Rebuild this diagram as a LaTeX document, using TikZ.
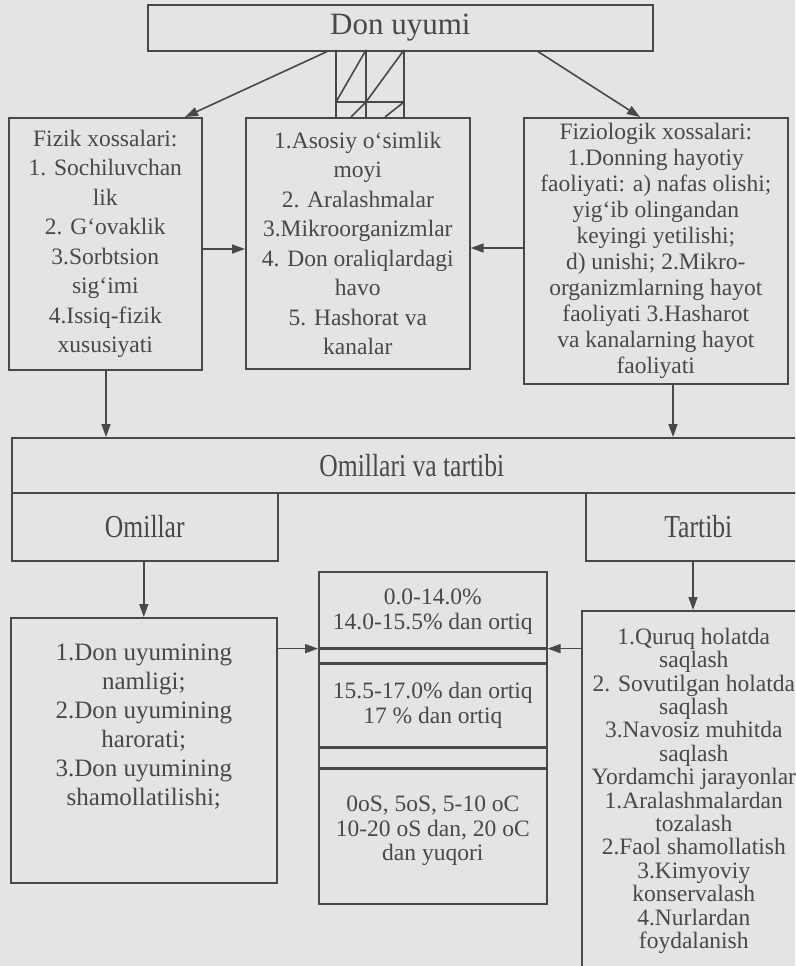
\documentclass[tikz,border=0pt]{standalone}
\usepackage{fontspec}
\setmainfont{Liberation Serif}
\usetikzlibrary{arrows.meta,positioning}
\definecolor{ink}{RGB}{72,72,72}
\definecolor{paper}{RGB}{228,228,226}

\begin{document}
\begin{tikzpicture}[x=1pt, y=-1pt, line width=1.6pt, draw=ink, text=ink,
    box/.style={draw, anchor=north west, inner sep=0pt, align=center,
        font=\fontsize{23.5}{29.5}\selectfont},
    tight/.style={font=\fontsize{23.5}{23.4}\selectfont},
    arr/.style={-{Triangle[length=13pt,width=9pt]}}]
    \fill[paper] (0,0) rectangle (795,966);
    \useasboundingbox (0,0) rectangle (795,966);
    \clip (0,0) rectangle (795,966);

    % top row
    \node [box, minimum width=505pt, minimum height=46pt,
        font=\fontsize{31}{33}\selectfont] (don) at (147,4) {Don uyumi};
    \node [box, minimum width=193pt, minimum height=252pt] (fizik) at (8,117)
        {Fizik xossalari:\\1. Sochiluvchan\\lik\\2. G‘ovaklik\\3.Sorbtsion\\sig‘imi\\4.Issiq-fizik\\xususiyati};
    \node [box, minimum width=224pt, minimum height=251pt] (tarkib) at (245,117)
        {1.Asosiy o‘simlik\\moyi\\2. Aralashmalar\\3.Mikroorganizmlar\\4. Don oraliqlardagi\\havo\\5. Hashorat va\\kanalar};
    \node [box, font=\fontsize{23.5}{26}\selectfont, minimum width=264pt, minimum height=266pt] (fiziol) at (523,117)
        {Fiziologik xossalari:\\1.Donning hayotiy\\faoliyati: a) nafas olishi;\\yig‘ib olingandan\\keyingi yetilishi;\\d) unishi; 2.Mikro-\\organizmlarning hayot\\faoliyati 3.Hasharot\\va kanalarning hayot\\faoliyati};

    % hatched link under the title
    \draw (336,50) -- (336,117) (366,50) -- (366,117) (404,50) -- (404,117)
        (336,102) -- (404,102)
        (366,50) -- (336,102) (404,50) -- (366,102)
        (366,102) -- (351,117) (404,102) -- (385,117);

    \draw [arr] (don.south -| 327,0) -- (fizik.north -| 185,0);
    \draw [arr] (don.south -| 538,0) -- (fiziol.north -| 640,0);
    \draw [arr] (fizik.east |- 0,249) -- (tarkib.west |- 0,249);
    \draw [arr] (fiziol.west |- 0,248) -- (tarkib.east |- 0,248);

    % middle band
    \node [box, minimum width=800pt, minimum height=55pt] (omtar) at (11,437)
        {\scalebox{0.8}[1]{\fontsize{32}{34}\selectfont Omillari va tartibi}};
    \node [box, minimum width=266pt, minimum height=68pt] (omil) at (11,492)
        {\scalebox{0.8}[1]{\fontsize{32}{34}\selectfont Omillar}};
    \node [box, minimum width=225pt, minimum height=68pt] (tartib) at (585,492)
        {\scalebox{0.8}[1]{\fontsize{32}{34}\selectfont Tartibi}};
    \draw [arr] (fizik.south -| 106,0) -- (omtar.north -| 106,0);
    \draw [arr] (fiziol.south -| 673,0) -- (omtar.north -| 673,0);

    % bottom row
    \node [box, minimum width=266pt, minimum height=265pt] (namlik) at (10,617) {};
    \node [below=26pt of namlik.north, align=center, inner sep=0pt,
        font=\fontsize{25}{29}\selectfont] (namlikmatn)
        {1.Don uyumining\\namligi;\\2.Don uyumining\\harorati;\\3.Don uyumining\\shamollatilishi;};
    \node [box, font=\fontsize{23.5}{25}\selectfont, minimum width=228pt, minimum height=76pt] (c1) at (318,571)
        {\\[-6pt]0.0-14.0\%\\14.0-15.5\% dan ortiq};
    \node [box, minimum width=228pt, minimum height=13pt] (g1) at (c1.south west) {};
    \node [box, font=\fontsize{23.5}{25}\selectfont, minimum width=228pt, minimum height=83pt] (c2) at (g1.south west)
        {15.5-17.0\% dan ortiq\\17 \% dan ortiq};
    \node [box, minimum width=228pt, minimum height=19pt] (g2) at (c2.south west) {};
    \node [box, minimum width=228pt, minimum height=135pt] (c3) at (g2.south west) {};
    \node [below=27pt of c3.north, align=center, inner sep=0pt,
        font=\fontsize{23.5}{24.2}\selectfont] (c3matn)
        {0oS, 5oS, 5-10 oC\\10-20 oS dan, 20 oC\\dan yuqori};
    \node [box, tight, minimum width=224pt, minimum height=360pt] (usul) at (581,610)
        {1.Quruq holatda\\saqlash\\2. Sovutilgan holatda\\saqlash\\3.Navosiz muhitda\\saqlash\\Yordamchi jarayonlar\\1.Aralashmalardan\\tozalash\\2.Faol shamollatish\\3.Kimyoviy\\konservalash\\4.Nurlardan\\foydalanish};

    \draw [arr] (omil.south -| namlik.north) -- (namlik.north);
    \draw [arr] (tartib.south -| 693,0) -- (usul.north -| 693,0);
    \draw [arr] (c1.south west -| namlik.east) -- (c1.south west);
    \draw [arr] (c1.south east -| usul.west) -- (c1.south east);
\end{tikzpicture}
\end{document}
